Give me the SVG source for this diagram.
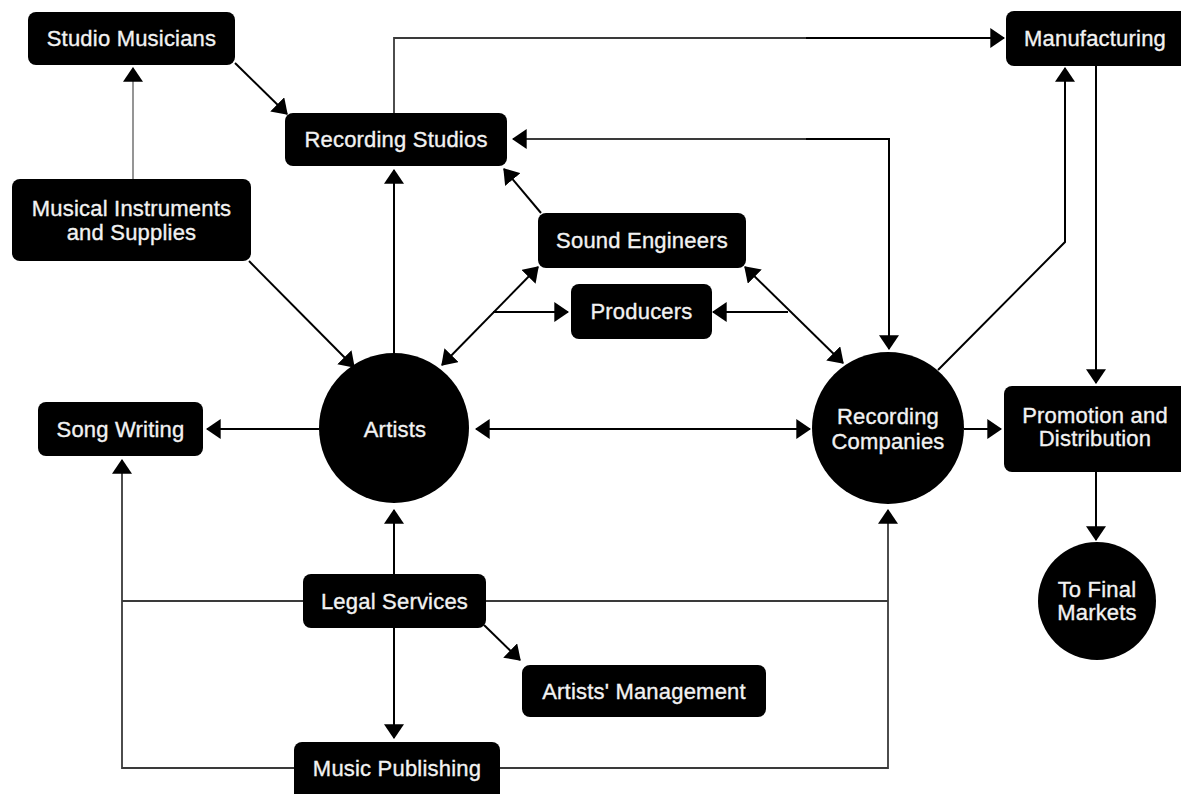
<svg xmlns="http://www.w3.org/2000/svg" width="1181" height="794" viewBox="0 0 1181 794">
<style>
.box{fill:#000}
.lbl{fill:#f2f2f2;stroke:#f2f2f2;stroke-width:0.35;font-family:"Liberation Sans",Arial,Helvetica,sans-serif;font-size:22px;letter-spacing:0.2px;text-anchor:middle}
.ln{fill:none;stroke:#000;stroke-width:2}
.lt{fill:none;stroke:#3a3a3a;stroke-width:1.8}
.lg{fill:none;stroke:#8a8a8a;stroke-width:1.8}
</style>
<defs>
<marker id="ah" markerUnits="userSpaceOnUse" markerWidth="15" markerHeight="20" viewBox="0 0 14 19" refX="13" refY="9.5" orient="auto-start-reverse">
<path d="M0,0 L14,9.5 L0,19 z" fill="#000"/>
</marker>
</defs>
<rect width="1181" height="794" fill="#fff"/>
<g id="connectors">
<line class="lg" x1="133" y1="179" x2="133" y2="68" marker-end="url(#ah)"/>
<line class="ln" x1="235" y1="63" x2="287" y2="114" marker-end="url(#ah)"/>
<path class="lt" d="M394,113 V38 H808"/>
<path class="ln" d="M806,38 H1004" marker-end="url(#ah)"/>
<path class="lt" d="M808,139 H513" marker-end="url(#ah)"/>
<path class="ln" d="M806,139 H889 V349" marker-end="url(#ah)"/>
<line class="ln" x1="541" y1="213" x2="504" y2="169" marker-end="url(#ah)"/>
<line class="ln" x1="394" y1="353" x2="394" y2="170" marker-end="url(#ah)"/>
<line class="ln" x1="249" y1="261" x2="354" y2="367" marker-end="url(#ah)"/>
<line class="ln" x1="442" y1="365" x2="538" y2="267" marker-start="url(#ah)" marker-end="url(#ah)"/>
<line class="ln" x1="493" y1="312" x2="568" y2="312" marker-end="url(#ah)"/>
<line class="ln" x1="745" y1="267" x2="843" y2="363" marker-start="url(#ah)" marker-end="url(#ah)"/>
<line class="ln" x1="788" y1="312" x2="713" y2="312" marker-end="url(#ah)"/>
<line class="ln" x1="319" y1="429" x2="207" y2="429" marker-end="url(#ah)"/>
<line class="ln" x1="476" y1="429" x2="810" y2="429" marker-start="url(#ah)" marker-end="url(#ah)"/>
<line class="ln" x1="964" y1="429" x2="1001" y2="429" marker-end="url(#ah)"/>
<path class="ln" d="M938,370 L1065,242 V68" marker-end="url(#ah)"/>
<line class="ln" x1="1096" y1="66" x2="1096" y2="383" marker-end="url(#ah)"/>
<line class="ln" x1="1096" y1="472" x2="1096" y2="540" marker-end="url(#ah)"/>
<line class="ln" x1="394" y1="574" x2="394" y2="510" marker-end="url(#ah)"/>
<line class="ln" x1="394" y1="628" x2="394" y2="738" marker-end="url(#ah)"/>
<line class="ln" x1="484" y1="625" x2="520" y2="660" marker-end="url(#ah)"/>
<path class="lt" d="M303,601 H122"/>
<path class="lt" d="M295,768 H122 V460" marker-end="url(#ah)"/>
<path class="lt" d="M486,601 H888"/>
<path class="lt" d="M499,768 H888 V510" marker-end="url(#ah)"/>
</g>
<g id="studio-musicians"><rect class="box" x="28" y="12" width="207" height="53" rx="8"/><text class="lbl" x="131.5" y="46">Studio Musicians</text></g>
<g id="recording-studios"><rect class="box" x="285" y="113" width="222" height="53" rx="8"/><text class="lbl" x="396" y="147">Recording Studios</text></g>
<g id="musical-instruments"><rect class="box" x="12" y="179" width="239" height="82" rx="8"/><text class="lbl" x="131.5" y="216">Musical Instruments</text><text class="lbl" x="131.5" y="240">and Supplies</text></g>
<g id="sound-engineers"><rect class="box" x="538" y="213" width="208" height="55" rx="8"/><text class="lbl" x="642" y="248">Sound Engineers</text></g>
<g id="producers"><rect class="box" x="571" y="284" width="141" height="55" rx="8"/><text class="lbl" x="641.5" y="319">Producers</text></g>
<g id="manufacturing"><rect class="box" x="1006" y="11" width="190" height="55" rx="8"/><text class="lbl" x="1095" y="46">Manufacturing</text></g>
<g id="artists"><circle class="box" cx="394" cy="428" r="75"/><text class="lbl" x="395" y="437">Artists</text></g>
<g id="recording-companies"><circle class="box" cx="888" cy="428" r="76"/><text class="lbl" x="888" y="424">Recording</text><text class="lbl" x="888" y="449">Companies</text></g>
<g id="song-writing"><rect class="box" x="38" y="402" width="165" height="54" rx="8"/><text class="lbl" x="120.5" y="437">Song Writing</text></g>
<g id="promotion-distribution"><rect class="box" x="1004" y="386" width="195" height="86" rx="8"/><text class="lbl" x="1095" y="423">Promotion and</text><text class="lbl" x="1095" y="446">Distribution</text></g>
<g id="final-markets"><circle class="box" cx="1097" cy="601" r="59"/><text class="lbl" x="1097" y="597">To Final</text><text class="lbl" x="1097" y="620">Markets</text></g>
<g id="legal-services"><rect class="box" x="303" y="574" width="183" height="54" rx="8"/><text class="lbl" x="394.5" y="609">Legal Services</text></g>
<g id="artists-management"><rect class="box" x="522" y="665" width="244" height="52" rx="8"/><text class="lbl" x="644" y="699">Artists' Management</text></g>
<g id="music-publishing"><rect class="box" x="294" y="742" width="206" height="60" rx="8"/><text class="lbl" x="397" y="776">Music Publishing</text></g>
</svg>
